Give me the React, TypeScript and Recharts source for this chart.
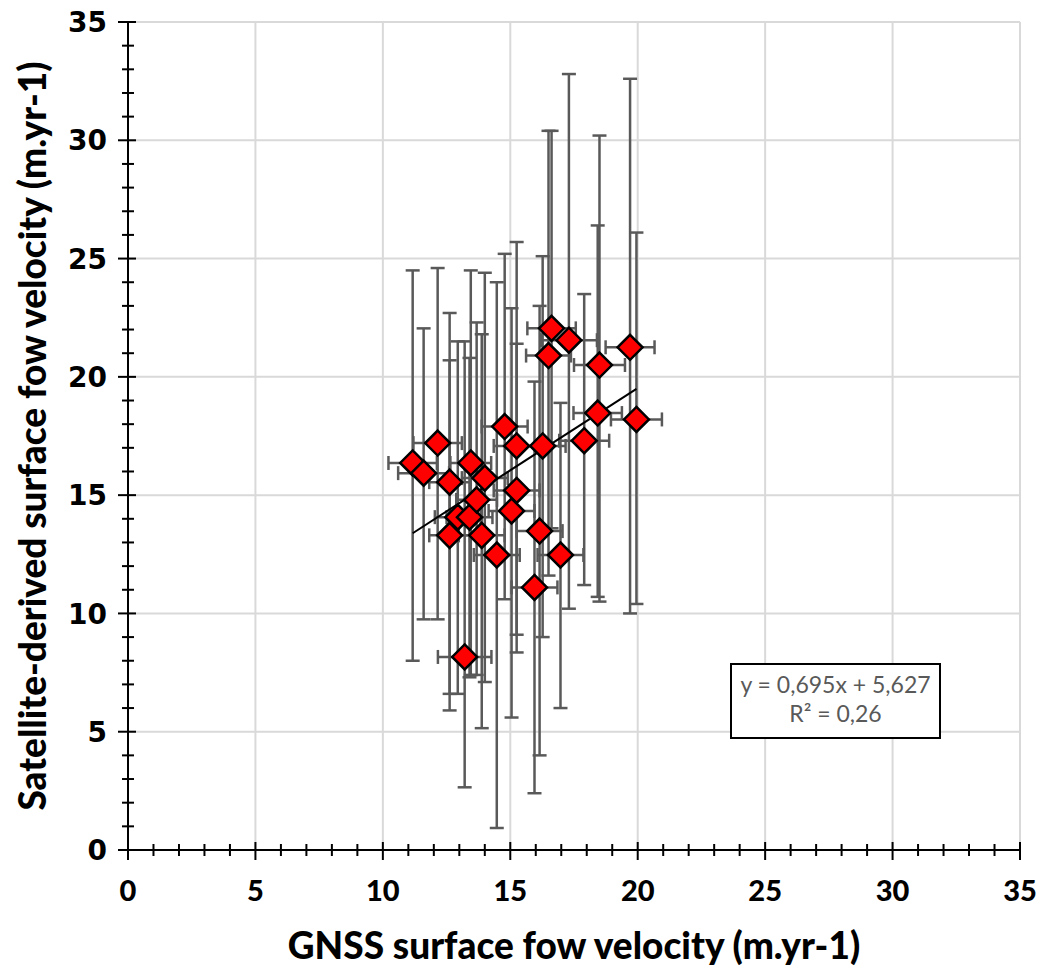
import React from "react";
import { ScatterChart, Scatter, XAxis, YAxis, ErrorBar, ReferenceLine } from "recharts";

// GNSS velocity (x), satellite velocity (y), x error, y lower / upper bounds
const gnss = [11.17, 11.6, 12.15, 12.62, 12.62, 12.94, 13.4, 13.45, 13.68, 14.0, 13.88, 14.47, 13.21, 14.78, 15.25, 15.05, 15.25, 16.27, 16.15, 15.95, 16.97, 16.5, 16.62, 17.3, 17.9, 18.43, 18.5, 19.7, 19.95];
const satellite = [16.36, 15.93, 17.2, 15.55, 13.3, 14.07, 14.07, 16.36, 14.8, 15.72, 13.3, 12.47, 8.16, 17.9, 17.08, 14.33, 15.2, 17.08, 13.48, 11.1, 12.47, 20.9, 22.05, 21.55, 17.3, 18.47, 20.5, 21.25, 18.2];
const gnssErr = [0.95, 1.0, 0.95, 0.8, 0.8, 0.9, 0.9, 0.8, 0.8, 0.9, 0.9, 0.9, 1.05, 0.9, 0.9, 0.9, 0.9, 0.9, 0.9, 0.9, 0.9, 0.88, 0.95, 1.1, 0.98, 0.95, 1.0, 0.96, 1.0];
const satLow = [8.0, 9.75, 9.75, 6.6, 5.9, 6.6, 7.3, 7.4, 7.4, 7.1, 5.15, 0.93, 2.65, 10.6, 9.1, 5.6, 8.35, 9.0, 4.0, 2.4, 6.0, 11.6, 13.6, 10.2, 11.2, 10.7, 10.5, 10.0, 10.4];
const satHigh = [24.5, 22.05, 24.6, 22.7, 20.7, 21.5, 20.8, 24.5, 22.3, 24.4, 21.8, 24.0, 21.5, 25.2, 25.7, 22.9, 21.4, 25.1, 23.0, 19.8, 18.9, 30.4, 30.4, 32.8, 23.5, 26.4, 30.2, 32.6, 26.1];

const slope = 0.695;
const intercept = 5.627;

const minorTicks = Array.from({ length: 36 }, (_, i) => i);
const gridValues = [5, 10, 15, 20, 25, 30, 35];

const data = gnss.map((x, i) => ({
  x,
  y: satellite[i],
  ex: gnssErr[i],
  ey: [satellite[i] - satLow[i], satHigh[i] - satellite[i]],
}));

const xMin = Math.min(...gnss);
const xMax = Math.max(...gnss);

const labelFont = "Lato, 'Open Sans', sans-serif";

function XTick(props: any) {
  const { x, y, payload } = props;
  const major = payload.value % 5 === 0;
  return (
    <g>
      <line x1={x} x2={x} y1={y - (major ? 8 : 6)} y2={y + (major ? 10 : 6)} stroke="#000" strokeWidth={2} />
      {major && (
        <text x={x} y={y + 51} textAnchor="middle" fontFamily={labelFont} fontWeight={900} fontSize={29} fill="#000">
          {payload.value}
        </text>
      )}
    </g>
  );
}

function YTick(props: any) {
  const { x, y, payload } = props;
  const major = payload.value % 5 === 0;
  return (
    <g>
      <line x1={x - (major ? 10 : 6)} x2={x + (major ? 8 : 6)} y1={y} y2={y} stroke="#000" strokeWidth={2} />
      {major && (
        <text x={x - 21} y={y} dy="0.36em" textAnchor="end" fontFamily="'DejaVu Sans', sans-serif" fontWeight={700} fontSize={28} fill="#000">
          {payload.value}
        </text>
      )}
    </g>
  );
}

function Diamond(props: any) {
  const { cx, cy } = props;
  const r = 12.5;
  return (
    <polygon
      points={`${cx},${cy - r} ${cx + r},${cy} ${cx},${cy + r} ${cx - r},${cy}`}
      fill="#ff0000"
      stroke="#000"
      strokeWidth={2.5}
      strokeLinejoin="miter"
    />
  );
}

export default function App() {
  return (
    <div style={{ position: "relative", width: 1047, height: 973, margin: -8 }}>
      <ScatterChart width={1047} height={973} margin={{ top: 22, right: 27, bottom: 0, left: 0 }}>
        <XAxis
          type="number"
          dataKey="x"
          domain={[0, 35]}
          ticks={minorTicks}
          interval={0}
          tickSize={0}
          tickMargin={0}
          tickLine={false}
          tick={<XTick />}
          axisLine={{ stroke: "#000", strokeWidth: 2 }}
          height={123}
          allowDataOverflow
          label={{
            content: (p: any) => {
              const vb = p.viewBox;
              return (
                <text x={vb.x + vb.width / 2} y={vb.y + 96} textAnchor="middle" dy="0.36em" fontFamily={labelFont} fontWeight={900} fontSize={37} fill="#000">
                  GNSS surface fow velocity (m.yr-1)
                </text>
              );
            },
          }}
        />
        <YAxis
          type="number"
          dataKey="y"
          domain={[0, 35]}
          ticks={minorTicks}
          interval={0}
          tickSize={0}
          tickMargin={0}
          tickLine={false}
          tick={<YTick />}
          axisLine={{ stroke: "#000", strokeWidth: 2 }}
          width={128}
          allowDataOverflow
          label={{
            content: (p: any) => {
              const vb = p.viewBox;
              const cx = 33;
              const cy = vb.y + vb.height / 2;
              return (
                <text x={cx} y={cy} textAnchor="middle" dy="0.36em" transform={`rotate(-90 ${cx} ${cy})`} fontFamily={labelFont} fontWeight={900} fontSize={37} fill="#000">
                  Satellite-derived surface fow velocity (m.yr-1)
                </text>
              );
            },
          }}
        />
        {gridValues.map((v) => (
          <ReferenceLine key={"gx" + v} x={v} stroke="#d9d9d9" strokeWidth={2} />
        ))}
        {gridValues.map((v) => (
          <ReferenceLine key={"gy" + v} y={v} stroke="#d9d9d9" strokeWidth={2} />
        ))}
        <Scatter data={data} shape={<Diamond />} isAnimationActive={false}>
          <ErrorBar dataKey="ey" direction="y" width={7} stroke="#595959" strokeWidth={2.5} isAnimationActive={false} />
          <ErrorBar dataKey="ex" direction="x" width={7} stroke="#595959" strokeWidth={2.5} isAnimationActive={false} />
        </Scatter>
        <ReferenceLine
          segment={[
            { x: xMin, y: slope * xMin + intercept },
            { x: xMax, y: slope * xMax + intercept },
          ]}
          stroke="#000"
          strokeWidth={2}
        />
      </ScatterChart>
      <div
        style={{
          position: "absolute",
          left: 730,
          top: 663,
          width: 207,
          height: 67,
          border: "2px solid #000",
          background: "#fff",
          fontFamily: "Lato, sans-serif",
          fontSize: 23,
          color: "#595959",
          textAlign: "center",
          lineHeight: "29px",
          paddingTop: 5,
          boxSizing: "content-box",
        }}
      >
        <div>y = 0,695x + 5,627</div>
        <div>R² = 0,26</div>
      </div>
    </div>
  );
}
